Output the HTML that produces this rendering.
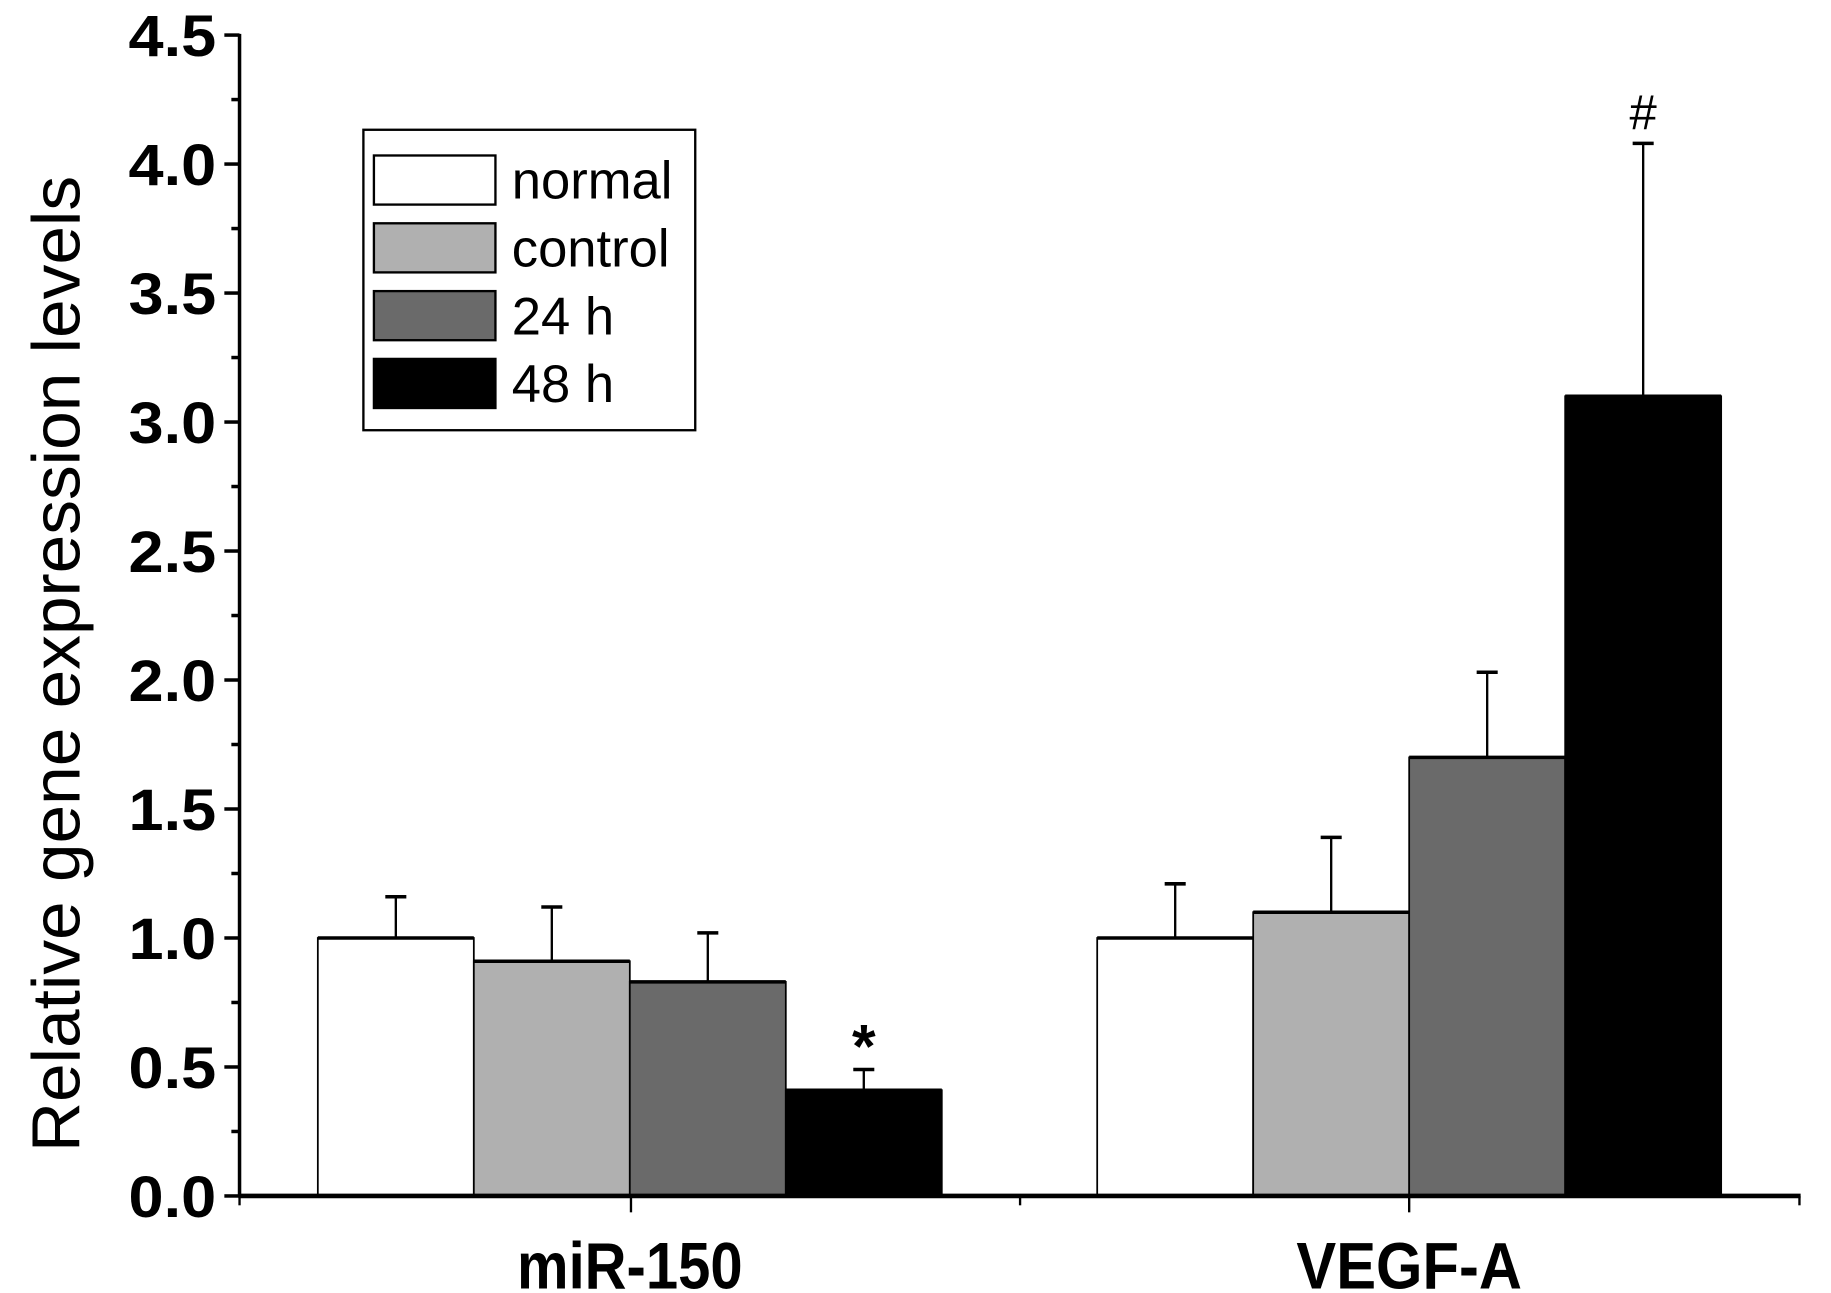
<!DOCTYPE html>
<html><head><meta charset="utf-8"><style>html,body{margin:0;padding:0;background:#fff}svg{display:block}</style></head>
<body>
<svg id="chart" width="1831" height="1293" viewBox="0 0 1567 1106" preserveAspectRatio="none" xmlns="http://www.w3.org/2000/svg" font-family="'Liberation Sans', sans-serif">
<rect width="1567" height="1106" fill="#fff"/>
<g id="bars"></g>
<g id="axes"></g>
<text transform="translate(68,568) rotate(-90)" text-anchor="middle" font-size="58" textLength="835" lengthAdjust="spacingAndGlyphs">Relative gene expression levels</text>
<g>
<rect x="311" y="111" width="284" height="257" fill="#fff" stroke="#000" stroke-width="2"/>
<g id="legend-entries"></g>
</g>
</svg>
<script>
const categories = ["miR-150", "VEGF-A"];
const seriesNames = ["normal", "control", "24 h", "48 h"];
const seriesColors = ["#ffffff", "#b0b0b0", "#6a6a6a", "#000000"];
const valNormal = [1.0, 1.0];
const valControl = [0.91, 1.10];
const val24h = [0.83, 1.70];
const val48h = [0.41, 3.10];
const errNormal = [0.16, 0.21];
const errControl = [0.21, 0.29];
const err24h = [0.19, 0.33];
const err48h = [0.08, 0.98];
const yTicks = ["0.0","0.5","1.0","1.5","2.0","2.5","3.0","3.5","4.0","4.5"];
const annotations = [{cat:0, s:3, text:"*"}, {cat:1, s:3, text:"#"}];

const NS = "http://www.w3.org/2000/svg";
const X0 = 205, X1 = 1540, Y0 = 1023, YTOP = 30, YMAX = 4.5;
const y = v => Y0 - (v / YMAX) * (Y0 - YTOP);
const groupCenter = i => 539 + i * 667;
const barW = 133.5;
const barX = (i, s) => groupCenter(i) - 2 * barW + s * barW;
const vals = [valNormal, valControl, val24h, val48h];
const errs = [errNormal, errControl, err24h, err48h];
function mk(tag, attrs, parent) { const e = document.createElementNS(NS, tag); for (const k in attrs) e.setAttribute(k, attrs[k]); parent.appendChild(e); return e; }
const bars = document.getElementById("bars");
const axes = document.getElementById("axes");
categories.forEach((c, i) => {
  vals.forEach((arr, s) => {
    const x = barX(i, s), v = arr[i], top = errs[s][i] + v, cx = x + barW / 2;
    const eb = mk("line", {x1: cx, x2: cx, y1: y(v), y2: y(top), stroke: "#000", "stroke-width": 2}, bars);
    
    
    const cap = mk("line", {x1: cx - 9, x2: cx + 9, y1: y(top), y2: y(top), stroke: "#000", "stroke-width": 3}, bars);
    
    
    const r = mk("rect", {x: x, y: y(v), width: barW, height: Y0 - y(v), fill: seriesColors[s], stroke: "#000", "stroke-width": 1.5}, bars);
    
    
    mk("line", {x1: x, x2: x + barW, y1: y(v), y2: y(v), stroke: "#000", "stroke-width": 3}, bars);
  });
  const t = mk("text", {x: groupCenter(i), y: 1102, "text-anchor": "middle", "font-size": 56, "font-weight": "bold", textLength: 193, lengthAdjust: "spacingAndGlyphs"}, axes);
  t.textContent = c;
  
  
});
annotations.forEach(a => {
  const top = vals[a.s][a.cat] + errs[a.s][a.cat];
  const t = mk("text", {x: barX(a.cat, a.s) + barW / 2, y: y(top) - (a.text === "*" ? 2 : 12), "text-anchor": "middle", "font-size": a.text === "*" ? 52 : 42, "font-weight": a.text === "*" ? "bold" : "normal"}, axes);
  t.textContent = a.text;
  
  
});
mk("line", {x1: X0, x2: X0, y1: YTOP - 1, y2: Y0 + 1, stroke: "#000", "stroke-width": 3}, axes);
mk("line", {x1: X0 - 1, x2: X1 + 1, y1: Y0, y2: Y0, stroke: "#000", "stroke-width": 4}, axes);
yTicks.forEach((lab, k) => {
  const v = parseFloat(lab);
  mk("line", {x1: X0 - 13, x2: X0, y1: y(v), y2: y(v), stroke: "#000", "stroke-width": 3}, axes);
  if (v < YMAX) mk("line", {x1: X0 - 7, x2: X0, y1: y(v + 0.25), y2: y(v + 0.25), stroke: "#000", "stroke-width": 3}, axes);
  const t = mk("text", {x: 185, y: y(v) + 18, "text-anchor": "end", "font-size": 50, "font-weight": "bold", textLength: 75, lengthAdjust: "spacingAndGlyphs"}, axes);
  t.textContent = lab;
  
  
});
[[205, 8], [540, 14], [873, 8], [1206, 14], [1540, 8]].forEach(([x, l]) => mk("line", {x1: x, x2: x, y1: Y0, y2: Y0 + l, stroke: "#000", "stroke-width": 2}, axes));
const le = document.getElementById("legend-entries");
seriesNames.forEach((n, s) => {
  const yy = 133 + s * 58;
  const r = mk("rect", {x: 320, y: yy, width: 104, height: 42, fill: seriesColors[s], stroke: "#000", "stroke-width": 2}, le);
  
  
  const t = mk("text", {x: 438, y: yy + 37, "font-size": 45}, le);
  t.textContent = n;
  
  
});
</script>
</body></html>
